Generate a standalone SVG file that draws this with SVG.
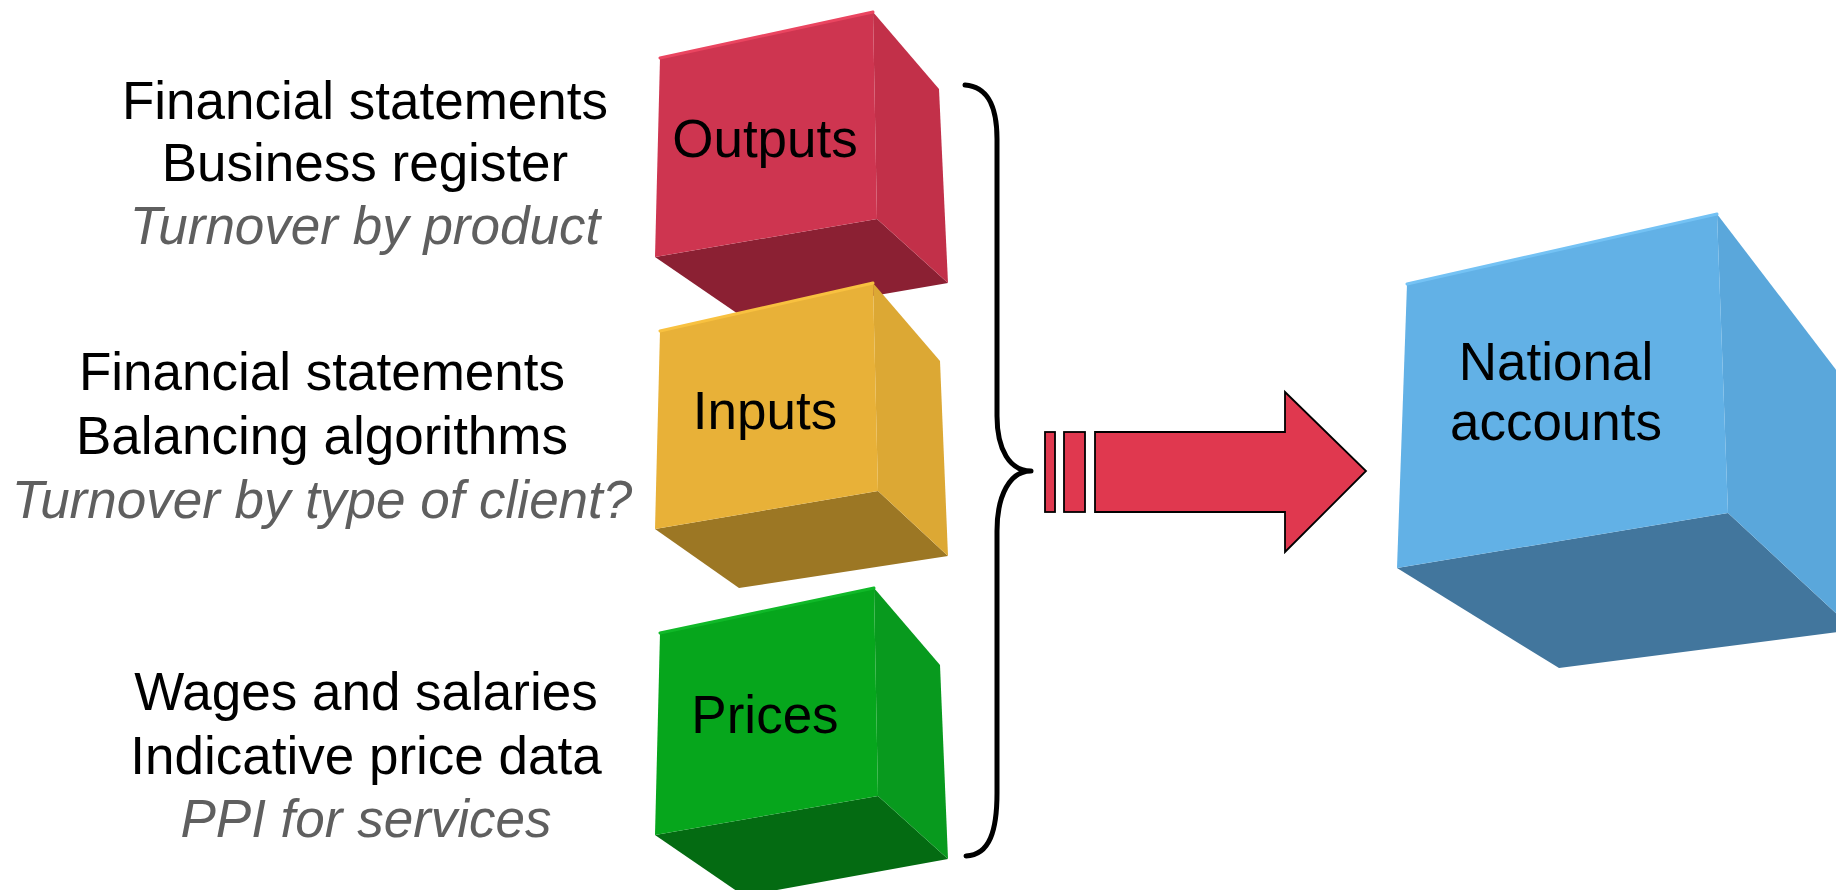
<svg xmlns="http://www.w3.org/2000/svg" width="1836" height="890" viewBox="0 0 1836 890">
<style>
text{font-family:"Liberation Sans",Arial,sans-serif;font-size:53px;fill:#000;text-anchor:middle}
.it{font-style:italic;fill:#5f5f5f}
.hl{fill:none;stroke-width:3;stroke-linecap:round}
</style>
<rect width="1836" height="890" fill="#fff"/>
<g id="node-outputs">
<polygon points="655,257 877,219 948,283 744,318" fill="#8B2033"/>
<polygon points="873,12 939,89 948,283 877,219" fill="#C23049"/>
<polygon points="660,58 873,12 877,219 655,257" fill="#CE3550"/>
<polyline class="hl" points="660,58 873,12" stroke="#EA4560"/>
<text x="765" y="157">Outputs</text>
</g>
<g id="node-inputs">
<polygon points="655,529 878,491 948,556 739,588" fill="#9C7724"/>
<polygon points="873,283 940,361 948,556 878,491" fill="#DCA834"/>
<polygon points="660,331 873,283 878,491 655,529" fill="#E8B138"/>
<polyline class="hl" points="660,331 873,283" stroke="#F8C140"/>
<text x="765" y="429">Inputs</text>
</g>
<g id="node-prices">
<polygon points="655,835 878,796 948,859 744,896" fill="#046B12"/>
<polygon points="874,588 940,665 948,859 878,796" fill="#089A1E"/>
<polygon points="660,633 874,588 878,796 655,835" fill="#06A61C"/>
<polyline class="hl" points="660,633 874,588" stroke="#10B828"/>
<text x="765" y="733">Prices</text>
</g>
<g id="node-national-accounts">
<polygon points="1397,568 1728,513 1854,630 1559,668" fill="#42769D"/>
<polygon points="1717,214 1850,388 1854,630 1728,513" fill="#5AA7DB"/>
<polygon points="1407,284 1717,214 1728,513 1397,568" fill="#62B1E6"/>
<polyline class="hl" points="1407,284 1717,214" stroke="#74C2F4"/>
<text x="1556" y="380">National</text>
<text x="1556" y="440">accounts</text>
</g>
<g id="label-outputs">
<text x="365" y="119">Financial statements</text>
<text x="365" y="181">Business register</text>
<text x="365" y="244" class="it">Turnover by product</text>
</g>
<g id="label-inputs">
<text x="322" y="390">Financial statements</text>
<text x="322" y="454">Balancing algorithms</text>
<text x="322" y="518" class="it">Turnover by type of client?</text>
</g>
<g id="label-prices">
<text x="366" y="710">Wages and salaries</text>
<text x="366" y="774">Indicative price data</text>
<text x="366" y="837" class="it">PPI for services</text>
</g>
<g id="connectors">
<path d="M965,85 C990,87 997,110 997,139 L997,416 C997,450 1010,471 1031,471 C1010,471 997,495 997,531 L997,793 C997,830 990,855 966,856" fill="none" stroke="#000" stroke-width="5" stroke-linecap="round" stroke-linejoin="round"/>
<g fill="#E0384F" stroke="#000" stroke-width="1.8">
<rect x="1045" y="432" width="10" height="80"/>
<rect x="1064" y="432" width="21" height="80"/>
<polygon points="1095,432 1285,432 1285,392 1366,471 1285,552 1285,512 1095,512"/>
</g>
</g>
</svg>
